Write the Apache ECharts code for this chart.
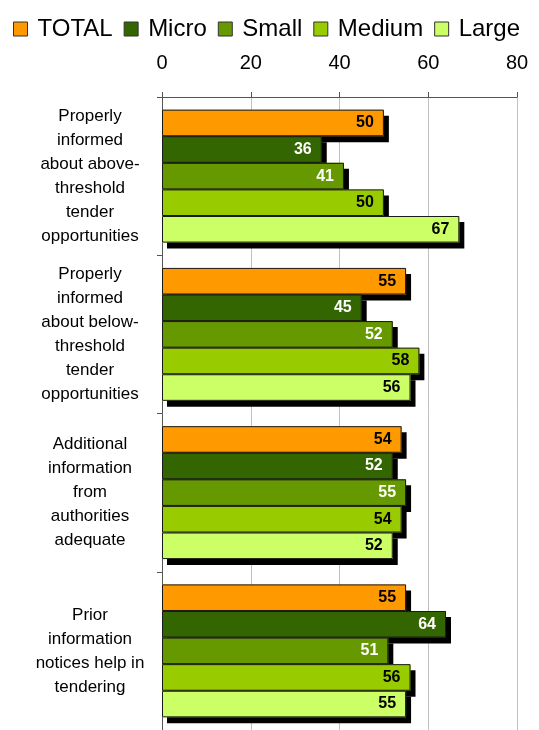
<!DOCTYPE html>
<html>
<head>
<meta charset="utf-8">
<script src="https://cdn.jsdelivr.net/npm/echarts@6/dist/echarts.min.js"></script>
<style>
  html, body { margin: 0; padding: 0; background: #fff; }
  #chart { width: 539px; height: 730px; }
</style>
</head>
<body>
<div id="chart"></div>
<script>
// Survey statements (top to bottom)
const categories = [
  'Properly\ninformed\nabout above-\nthreshold\ntender\nopportunities',
  'Properly\ninformed\nabout below-\nthreshold\ntender\nopportunities',
  'Additional\ninformation\nfrom\nauthorities\nadequate',
  'Prior\ninformation\nnotices help in\ntendering'
];

// Company size groups
const seriesNames = ['TOTAL', 'Micro', 'Small', 'Medium', 'Large'];

// Share of respondents (%) per statement
const totalValues  = [50, 55, 54, 55];
const microValues  = [36, 45, 52, 64];
const smallValues  = [41, 52, 55, 51];
const mediumValues = [50, 58, 54, 56];
const largeValues  = [67, 56, 52, 55];

// Axis ticks
const xTicks = [0, 20, 40, 60, 80];

const seriesValues = [totalValues, microValues, smallValues, mediumValues, largeValues];
const seriesColors = ['#FF9900', '#336600', '#669900', '#99CC00', '#CCFF66'];
const labelColors  = ['#000', '#fff', '#fff', '#000', '#000'];

const FONT = '"Liberation Sans", Arial, sans-serif';
const BAR_GAP = '0%';
const CAT_GAP = '16%';

const chart = echarts.init(document.getElementById('chart'), null, { renderer: 'canvas' });

// Filled bars carry the hard black drop shadow; outlines are drawn
// on a twin (hidden) category axis so the stroke gets no shadow.
const fillSeries = seriesNames.map((name, i) => ({
  name: name,
  type: 'bar',
  yAxisIndex: 0,
  data: seriesValues[i],
  barGap: BAR_GAP,
  barCategoryGap: CAT_GAP,
  z: 2,
  itemStyle: {
    color: seriesColors[i],
    borderWidth: 0,
    shadowColor: '#000',
    shadowBlur: 0,
    shadowOffsetX: 5,
    shadowOffsetY: 6
  },
  label: { show: false }
}));

const outlineSeries = seriesNames.map((name, i) => ({
  name: name + ' outline',
  type: 'bar',
  yAxisIndex: 1,
  data: seriesValues[i],
  barGap: BAR_GAP,
  barCategoryGap: CAT_GAP,
  z: 3,
  silent: true,
  itemStyle: {
    color: 'rgba(0,0,0,0)',
    borderColor: '#1a1a1a',
    borderWidth: 1
  },
  label: {
    show: true,
    position: 'insideRight',
    distance: 10,
    color: labelColors[i],
    fontSize: 16,
    fontWeight: 'bold',
    fontFamily: FONT
  }
}));

chart.setOption({
  animation: false,
  backgroundColor: '#fff',
  textStyle: { fontFamily: FONT },
  legend: {
    data: seriesNames,
    left: 8,
    top: 12,
    itemWidth: 14,
    itemHeight: 14,
    itemGap: 11,
    icon: 'rect',
    itemStyle: { borderColor: '#333', borderWidth: 1, shadowColor: 'transparent', shadowOffsetX: 0, shadowOffsetY: 0 },
    textStyle: { fontSize: 24, color: '#000', fontFamily: FONT, padding: [0, 0, 0, 5] }
  },
  grid: { left: 162, right: 22, top: 97, height: 640, containLabel: false },
  xAxis: {
    type: 'value',
    position: 'top',
    min: xTicks[0],
    max: xTicks[xTicks.length - 1],
    interval: xTicks[1] - xTicks[0],
    axisLine: { show: true, lineStyle: { color: '#555', width: 1 } },
    axisTick: { show: true, length: 5, lineStyle: { color: '#555' } },
    axisLabel: { fontSize: 20, color: '#000', margin: 24, fontFamily: FONT },
    splitLine: { show: true, lineStyle: { color: '#c0c0c0', width: 1 } }
  },
  yAxis: [
    {
      type: 'category',
      inverse: true,
      data: categories,
      axisLine: { show: true, lineStyle: { color: '#555', width: 1 } },
      axisTick: { show: true, length: 5, lineStyle: { color: '#555' } },
      axisLabel: {
        fontSize: 17,
        lineHeight: 24,
        color: '#000',
        align: 'center',
        margin: 72,
        fontFamily: FONT
      }
    },
    {
      type: 'category',
      inverse: true,
      position: 'left',
      data: categories,
      show: false
    }
  ],
  series: fillSeries.concat(outlineSeries)
});
</script>
</body>
</html>
